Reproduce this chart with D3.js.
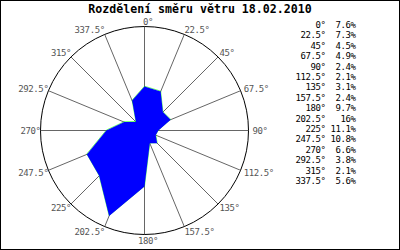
<!DOCTYPE html>
<html>
<head>
<meta charset="utf-8">
<script src="https://cdn.jsdelivr.net/npm/d3@7"></script>
<style>
  body { margin: 0; background: #fff; }
  text { font-family: "DejaVu Sans Mono", monospace; }
</style>
</head>
<body>
<script>
// data
const title = "Rozdělení směru větru 18.02.2010";
const directions = [0, 22.5, 45, 67.5, 90, 112.5, 135, 157.5, 180, 202.5, 225, 247.5, 270, 292.5, 315, 337.5];
const shares = [7.6, 7.3, 4.5, 4.9, 2.4, 2.1, 3.1, 2.4, 9.7, 16, 11.1, 10.8, 6.6, 3.8, 2.1, 5.6];

const width = 400, height = 250;
const cx = 144.5, cy = 130.5, R = 104;

const svg = d3.select("body").append("svg")
    .attr("width", width)
    .attr("height", height);

// frame
svg.append("rect")
    .attr("x", 0.5).attr("y", 0.5)
    .attr("width", width - 1).attr("height", height - 1)
    .attr("fill", "#fff")
    .attr("stroke", "#000");

svg.append("text")
    .attr("x", 200)
    .attr("y", 13)
    .attr("text-anchor", "middle")
    .style("font-size", "11.6px")
    .style("font-weight", "bold")
    .text(title);

const r = d3.scaleLinear().domain([0, 18]).range([0, R]);
const rad = d => d * Math.PI / 180;

const g = svg.append("g").attr("transform", `translate(${cx},${cy})`);

// spokes
g.selectAll(".spoke")
  .data(directions)
  .join("line")
    .attr("class", "spoke")
    .attr("x1", 0).attr("y1", 0)
    .attr("x2", d => R * Math.sin(rad(d)))
    .attr("y2", d => -R * Math.cos(rad(d)))
    .attr("stroke", "#666")
    .attr("stroke-width", 1);

g.append("circle")
    .attr("r", R)
    .attr("fill", "none")
    .attr("stroke", "#000");

// spoke labels
g.selectAll(".dirlabel")
  .data(directions)
  .join("text")
    .attr("class", "dirlabel")
    .attr("x", d => {
      const s = Math.sin(rad(d));
      const x = R * s;
      if (Math.abs(s) < 0.01) return x + 3.5;
      return s > 0 ? x + 4 * s * s * s : x;
    })
    .attr("y", d => {
      const c = Math.cos(rad(d));
      const y = -R * c;
      return y + (c > 0 ? -5 * c : -6 * c) + 3;
    })
    .attr("text-anchor", d => {
      const s = Math.sin(rad(d));
      if (Math.abs(s) < 0.01) return "middle";
      return s > 0 ? "start" : "end";
    })
    .attr("fill", "#555")
    .style("font-size", "9px")
    .style("letter-spacing", "-0.4px")
    .text(d => d + "°");

// rose polygon
const rose = d3.lineRadial()
    .angle((d, i) => rad(directions[i]))
    .radius(d => r(d))
    .curve(d3.curveLinearClosed);

g.append("path")
    .attr("d", rose(shares))
    .attr("transform", "translate(0,-0.4)")
    .attr("fill", "none")
    .attr("stroke", "#00ff00")
    .attr("stroke-width", 0.6);

g.append("path")
    .attr("d", rose(shares))
    .attr("fill", "#0000ff")
    .attr("stroke", "none");

// legend table
const rowY = d3.scaleLinear().domain([0, 15]).range([25, 181]);

const legend = svg.append("g")
    .style("font-size", "9px")
    .style("letter-spacing", "-0.4px");

legend.selectAll(".ldir")
  .data(directions)
  .join("text")
    .attr("class", "ldir")
    .attr("x", 325.5)
    .attr("y", (d, i) => rowY(i) + 3)
    .attr("text-anchor", "end")
    .text(d => d + "°");

legend.selectAll(".lval")
  .data(shares)
  .join("text")
    .attr("class", "lval")
    .attr("x", 355.5)
    .attr("y", (d, i) => rowY(i) + 3)
    .attr("text-anchor", "end")
    .text(d => d + "%");
</script>
</body>
</html>
